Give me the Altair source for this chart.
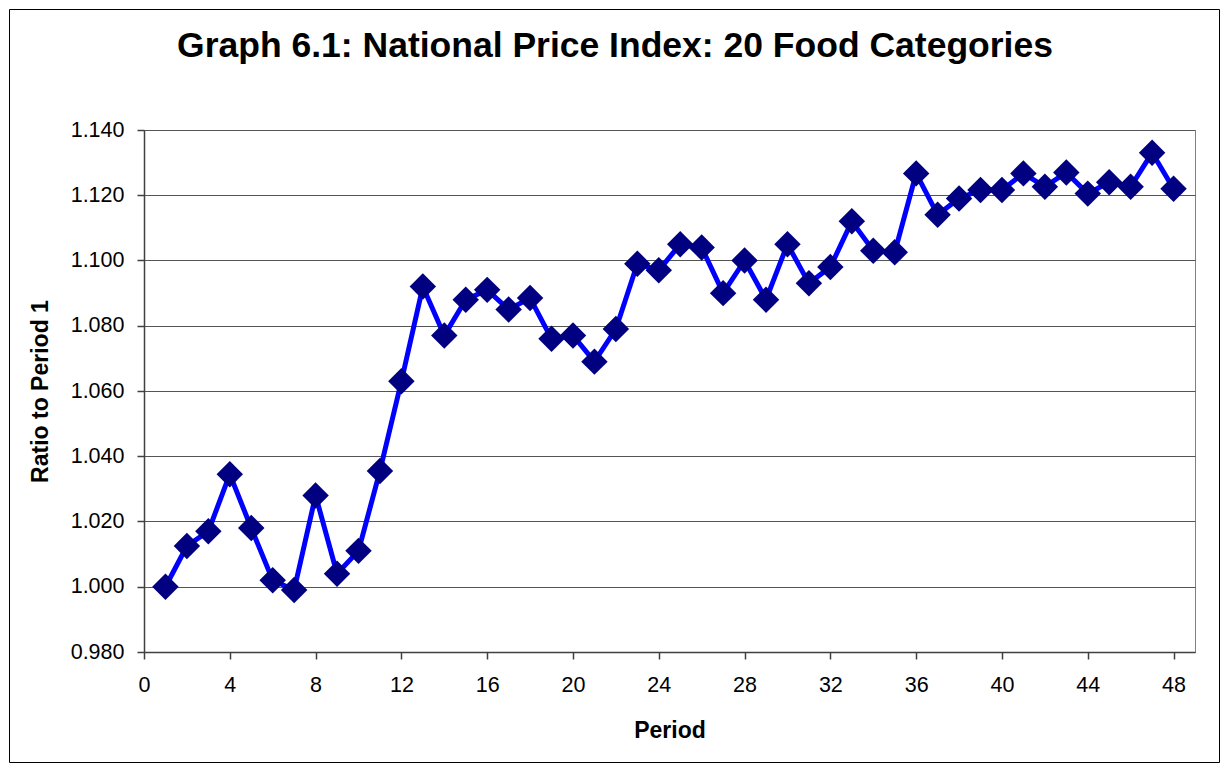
import altair as alt
import pandas as pd

periods = list(range(1, 49))
ratio = [1.000, 1.0125, 1.017, 1.0345, 1.018, 1.002, 0.999, 1.028, 1.004, 1.011,
         1.0355, 1.063, 1.092, 1.077, 1.088, 1.091, 1.085, 1.0885, 1.076, 1.077,
         1.069, 1.079, 1.099, 1.097, 1.105, 1.104, 1.090, 1.100, 1.088, 1.105,
         1.093, 1.098, 1.112, 1.103, 1.1025, 1.1267, 1.114, 1.119, 1.1216, 1.1216,
         1.1267, 1.1226, 1.127, 1.1205, 1.124, 1.1226, 1.133, 1.122]
x_ticks = list(range(0, 49, 4))
y_ticks = [0.98, 1.00, 1.02, 1.04, 1.06, 1.08, 1.10, 1.12, 1.14]
title_text = "Graph 6.1: National Price Index: 20 Food Categories"

df = pd.DataFrame({"Period": periods, "Ratio": ratio})

FONT = "Liberation Sans"
W, H = 1051, 522
PL, PT, PR, PB = 136, 122, 26, 112

x_enc = alt.X("Period:Q",
              scale=alt.Scale(domain=[0, 49], nice=False, zero=False),
              axis=alt.Axis(values=x_ticks, format="d", grid=False, title="Period",
                            labelFlush=False,
                            tickSize=7, labelPadding=15, titlePadding=24))
y_enc = alt.Y("Ratio:Q",
              scale=alt.Scale(domain=[0.98, 1.14], nice=False, zero=False),
              axis=alt.Axis(values=y_ticks, format=".3f", grid=True, title="Ratio to Period 1",
                            tickSize=7, labelPadding=13, titlePadding=18))

line = alt.Chart(df).mark_line(color="#0000FF", strokeWidth=5).encode(x=x_enc, y=y_enc)
points = alt.Chart(df).mark_point(shape="diamond", filled=True, color="#000080",
                                  size=700, opacity=1).encode(x="Period:Q", y="Ratio:Q")

frame = alt.Chart(alt.Data(values=[{"a": 1}])).mark_rect(
    fill=None, stroke="black", strokeWidth=1
).encode(
    x=alt.value(-PL + 1.5), x2=alt.value(W + PR - 1.5),
    y=alt.value(-PT + 1.5), y2=alt.value(H + PB - 1.5)
)

title = alt.Chart(alt.Data(values=[{"t": title_text}])).mark_text(
    font=FONT, fontSize=35.5, fontWeight="bold", color="black",
    align="center", baseline="alphabetic"
).encode(
    text="t:N", x=alt.value(471), y=alt.value(-73)
)

chart = alt.layer(frame, line, points, title).properties(
    width=W, height=H,
    background="white",
    autosize=alt.AutoSizeParams(type="none"),
    padding={"left": PL, "top": PT, "right": PR, "bottom": PB},
).configure_view(
    stroke="#808080", strokeWidth=1
).configure_axis(
    labelFont=FONT, labelFontSize=21.5, labelColor="black",
    titleFont=FONT, titleFontSize=23, titleFontWeight="bold", titleColor="black",
    domainColor="#404040", domainWidth=1.5, tickColor="#404040", tickWidth=1.5,
    gridColor="#555555", gridWidth=1
)

chart.save("out.html", embed_options={"renderer": "svg", "actions": False})
